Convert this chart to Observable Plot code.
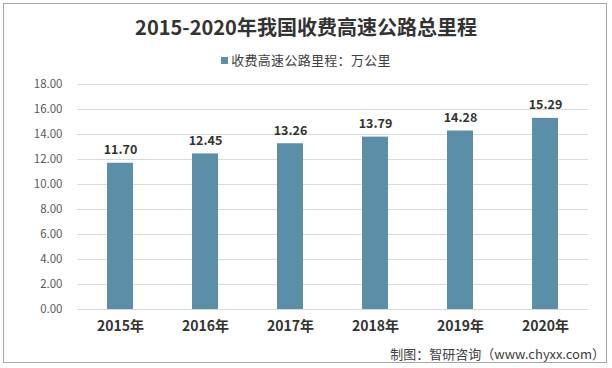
<!DOCTYPE html>
<html><head><meta charset="utf-8">
<script src="https://cdn.jsdelivr.net/npm/d3@7"></script>
<script src="https://cdn.jsdelivr.net/npm/@observablehq/plot@0.6"></script>
<style>
body{margin:0;background:#fff;font-family:"Noto Sans CJK SC","Noto Sans",sans-serif;}
#wrap{position:relative;width:612px;height:368px;overflow:hidden;}
#frame{position:absolute;left:3px;top:3px;width:604px;height:360px;border:1px solid #a6a6a6;box-sizing:border-box;}
#title{position:absolute;left:0;width:612px;top:12px;text-align:center;font-size:20px;font-weight:bold;color:#333;}
#legend{position:absolute;left:0;width:612px;top:50px;text-align:center;font-size:13px;color:#404040;letter-spacing:0.3px;}
#legend span.sw{display:inline-block;width:7px;height:7px;background:#5B8FA8;margin-right:3px;vertical-align:1px;}
#caption{position:absolute;right:7px;top:344px;font-size:13px;color:#404040;}
#chart{position:absolute;left:0;top:0;}
</style></head>
<body>
<div id="wrap">
<div id="frame"></div>
<div id="chart"></div>
<div id="title">2015-2020年我国收费高速公路总里程</div>
<div id="legend"><span class="sw"></span>收费高速公路里程：万公里</div>
<div id="caption">制图：智研咨询（www.chyxx.com）</div>
</div>
<script>
const years = ["2015年","2016年","2017年","2018年","2019年","2020年"];
const values = [11.70, 12.45, 13.26, 13.79, 14.28, 15.29];
const yTicks = [0,2,4,6,8,10,12,14,16,18];
const data = years.map((y,i)=>({year:y, value:values[i]}));
const chart = Plot.plot({
  width:612, height:368,
  marginTop:84, marginBottom:59, marginLeft:77, marginRight:24,
  style:{background:"transparent", fontFamily:"'Noto Sans CJK SC','Noto Sans',sans-serif"},
  x:{domain:years, paddingInner:0.69, paddingOuter:0.325, label:null},
  y:{domain:[0,18], label:null},
  marks:[
    Plot.gridY(yTicks,{stroke:"#d9d9d9", strokeOpacity:1}),
    Plot.axisY(yTicks,{tickSize:0, tickPadding:15, tickFormat:d=>d.toFixed(2), fill:"#595959", fontSize:11.5, label:null}),
    Plot.barY(data,{x:"year", y:"value", fill:"#5B8FA8"}),
    Plot.text(data,{x:"year", y:"value", text:d=>d.value.toFixed(2), dy:-13, fontWeight:"bold", fontSize:12.5, fill:"#333"}),
    Plot.axisX({tickSize:0, tickPadding:12, fontWeight:"bold", fontSize:14, fill:"#333", label:null})
  ]
});
document.getElementById("chart").appendChild(chart);
</script>
</body></html>
